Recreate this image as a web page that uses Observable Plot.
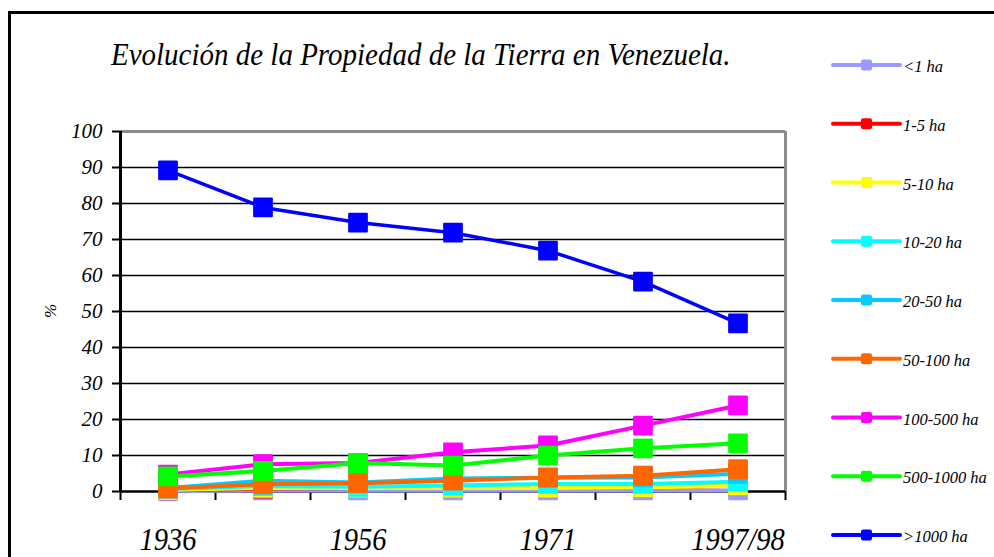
<!DOCTYPE html>
<html>
<head>
<meta charset="utf-8">
<script src="https://cdn.jsdelivr.net/npm/d3@7"></script>
<script src="https://cdn.jsdelivr.net/npm/@observablehq/plot@0.6"></script>
<style>
  body { margin: 0; background: #fff; }
  #wrap { position: relative; width: 994px; height: 557px; overflow: hidden; background: #fff;
          font-family: "Liberation Serif", "Times New Roman", serif; }
  #frame { position: absolute; left: 8px; top: 11px; width: 1200px; height: 800px;
           border: 3px solid #000; box-sizing: border-box; }
  #title { position: absolute; left: 111px; top: 39px; font-size: 31px; line-height: 31px;
           font-style: italic; white-space: nowrap; color: #000;
           transform: scaleX(0.935); transform-origin: 0 0; }
  #chart, #overlay { position: absolute; left: 0; top: 0; }
</style>
</head>
<body>
<div id="wrap">
  <div id="frame"></div>
  <div id="chart"></div>
  <div id="title">Evolución de la Propiedad de la Tierra en Venezuela.</div>
</div>
<script>
// ---- data ----
const categories = ["1936", "1950", "1956", "1961", "1971", "1985", "1997/98"];
const xTickLabels = ["1936", "1956", "1971", "1997/98"];
const yTicks = [0, 10, 20, 30, 40, 50, 60, 70, 80, 90, 100];
const seriesNames = ["<1 ha", "1-5 ha", "5-10 ha", "10-20 ha", "20-50 ha", "50-100 ha", "100-500 ha", "500-1000 ha", ">1000 ha"];

const haLt1      = [0.1, 0.3, 0.3, 0.3, 0.3, 0.3, 0.3];
const ha1to5     = [0.3, 0.8, 1.0, 1.0, 1.0, 1.1, 1.6];
const ha5to10    = [0.4, 1.0, 1.0, 1.0, 1.0, 1.1, 1.6];
const ha10to20   = [0.7, 1.5, 1.3, 1.7, 2.1, 2.1, 2.7];
const ha20to50   = [1.0, 3.0, 2.5, 3.6, 3.8, 3.9, 4.9];
const ha50to100  = [0.8, 2.0, 2.3, 3.0, 3.9, 4.4, 6.2];
const ha100to500 = [4.7, 7.6, 7.9, 10.9, 12.8, 18.3, 23.9];
const ha500to1000= [4.2, 5.7, 7.9, 7.2, 10.0, 12.0, 13.4];
const haGt1000   = [89.2, 78.9, 74.7, 71.9, 66.9, 58.3, 46.7];

const seriesValues = [haLt1, ha1to5, ha5to10, ha10to20, ha20to50, ha50to100, ha100to500, ha500to1000, haGt1000];

// ---- styles ----
const colors = ["#9999ff", "#ff0000", "#ffff00", "#00ffff", "#00ccff", "#ff6600", "#ff00ff", "#00ff00", "#0000ff"];

const rows = seriesNames.flatMap((name, s) =>
  seriesValues[s].map((v, i) => ({series: name, s, i, v})));

const labelIdx = categories.map((c, i) => i).filter(i => xTickLabels.includes(categories[i]));
const boundaries = d3.range(-0.5, categories.length, 1);

const seriesMarks = seriesNames.flatMap((name, s) => {
  const d = rows.filter(r => r.s === s);
  return [
    Plot.line(d, {x: "i", y: "v", stroke: colors[s], strokeWidth: s === 8 ? 3.5 : 4, strokeLinejoin: "round"}),
    Plot.dot(d, {x: "i", y: "v", symbol: "square", r: 10, fill: colors[s], stroke: colors[s],
                 strokeWidth: 2, strokeLinejoin: "round"})
  ];
});

const plot = Plot.plot({
  width: 994,
  height: 557,
  marginLeft: 120,
  marginRight: 209,
  marginTop: 131,
  marginBottom: 66,
  style: {background: "transparent", fontFamily: "Liberation Serif, Times New Roman, serif",
          fontStyle: "italic", color: "#000", overflow: "visible"},
  x: {domain: [-0.5, categories.length - 0.5]},
  y: {domain: [0, d3.max(yTicks)]},
  marks: [
    Plot.ruleY(yTicks.filter(v => v > 0 && v < d3.max(yTicks)), {stroke: "#000", strokeWidth: 1.3}),
    Plot.ruleY([d3.max(yTicks)], {stroke: "#8c8c8c", strokeWidth: 3}),
    Plot.ruleX([categories.length - 0.5], {stroke: "#8c8c8c", strokeWidth: 3}),
    Plot.axisY({ticks: yTicks, tickSize: 8, tickPadding: 10, fontSize: 21, fontStyle: "italic",
                strokeWidth: 2, label: null}),
    Plot.axisX({ticks: boundaries, tickSize: 9, tickFormat: () => "", strokeWidth: 2, label: null}),
    Plot.axisX({ticks: labelIdx, tickSize: 0, tickPadding: 36, fontSize: 32, fontStyle: "italic",
                tickFormat: i => categories[i], label: null}),
    Plot.ruleX([-0.5], {stroke: "#000", strokeWidth: 3}),
    Plot.ruleY([0], {stroke: "#000", strokeWidth: 2.5}),
    ...seriesMarks
  ]
});
document.getElementById("chart").appendChild(plot);

// condense the category labels horizontally, as in the original
d3.select(plot).selectAll("text").each(function() {
  if (!xTickLabels.includes(this.textContent)) return;
  const xa = this.getAttribute("x");
  let t = this.getAttribute("transform") || "";
  if (xa !== null && !isNaN(+xa)) {
    t += ` translate(${+xa},0)`;
    this.removeAttribute("x");
  }
  this.setAttribute("transform", `${t} scale(0.89,1)`);
});

// ---- legend and y label overlay ----
const ov = d3.select("#wrap").append("svg")
  .attr("id", "overlay").attr("width", 994).attr("height", 557)
  .style("font-family", "Liberation Serif, Times New Roman, serif")
  .style("font-style", "italic");

ov.append("text")
  .attr("transform", "translate(56,311) rotate(-90)")
  .attr("text-anchor", "middle")
  .attr("font-size", 17)
  .text("%");

const leg = ov.selectAll("g.leg").data(seriesNames).join("g")
  .attr("class", "leg")
  .attr("transform", (d, k) => `translate(0,${65 + k * 58.75})`);
leg.append("line").attr("x1", 833).attr("x2", 900).attr("y1", 0).attr("y2", 0)
  .attr("stroke", (d, k) => colors[k]).attr("stroke-width", 4).attr("stroke-linecap", "round");
leg.append("rect").attr("x", 861).attr("y", -5.5).attr("width", 11).attr("height", 11).attr("rx", 2)
  .attr("fill", (d, k) => colors[k]);
leg.append("text").attr("x", 903).attr("y", 7).attr("font-size", 16.5).text(d => d);
</script>
</body>
</html>
